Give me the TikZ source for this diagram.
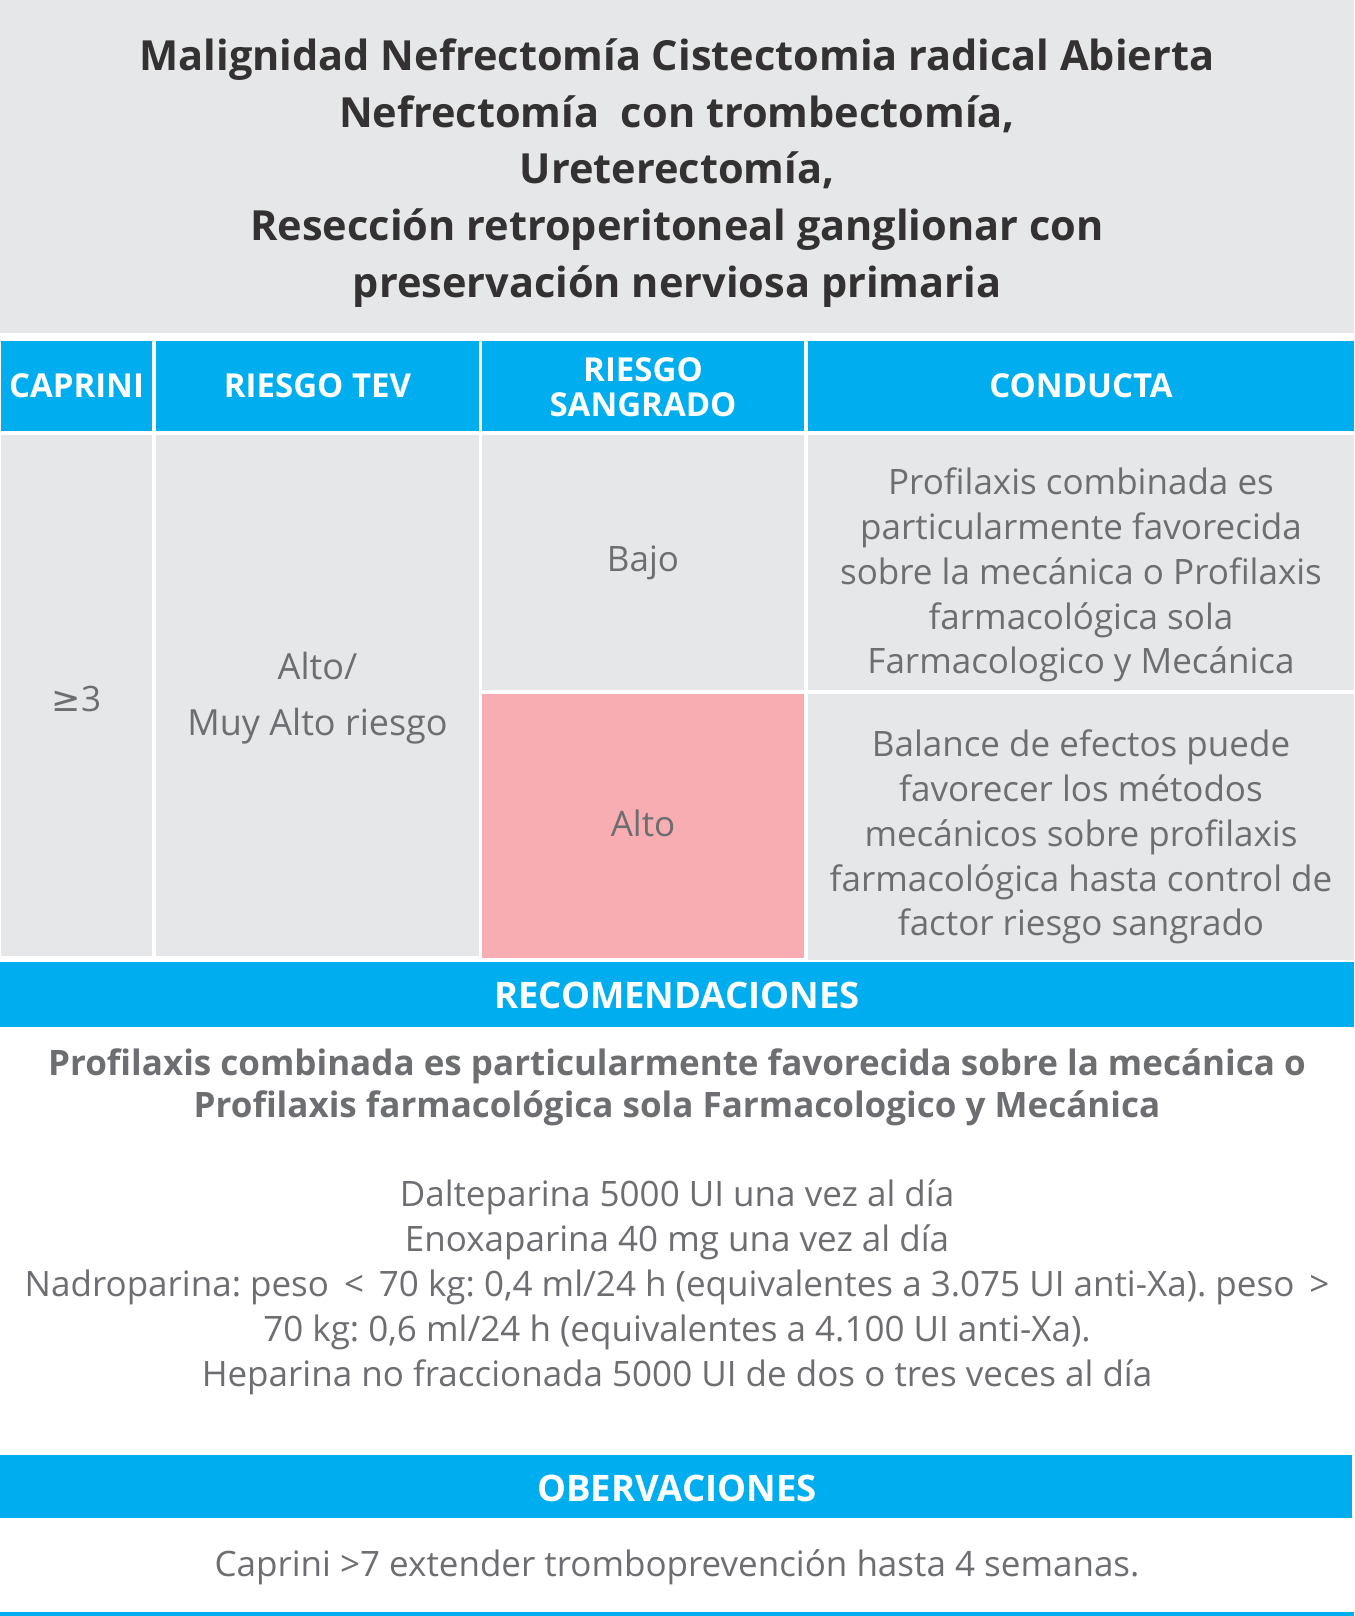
\documentclass[tikz,border=0pt]{standalone}
\usepackage{fontspec}
\setmainfont{Open Sans}
\newfontfamily\symfont{DejaVu Sans}
\usepackage{xcolor}
\frenchspacing

\definecolor{tblgray}{HTML}{E6E7E8}
\definecolor{tblblue}{HTML}{00AEEF}
\definecolor{tblpink}{HTML}{F7ADB1}
\definecolor{txtgray}{HTML}{6D6E71}
\definecolor{txtdark}{HTML}{333132}

\tikzset{
  headtxt/.style={text=white, align=center, font=\bfseries\fontsize{33}{35}\selectfont},
  bartxt/.style={text=white, align=center, font=\bfseries\fontsize{36.5}{40}\selectfont},
  celltxt/.style={text=txtgray, align=center, font=\fontsize{35}{44.9}\selectfont},
}

\begin{document}
\begin{tikzpicture}[x=1pt, y=-1pt, inner sep=0pt]
\useasboundingbox (0,0) rectangle (1354,1616);
\fill[white] (0,0) rectangle (1354,1616);
% title
\fill[tblgray] (0,0) rectangle (1354,333);
\node[text=txtdark, align=center, font=\bfseries\fontsize{41.5}{56.6}\selectfont] (title) at (677,173)
  {Malignidad Nefrectomía Cistectomia radical Abierta\\
   Nefrectomía \ con trombectomía,\\
   Ureterectomía,\\
   Resección retroperitoneal ganglionar con\\
   preservación nerviosa primaria};
% header row
\fill[tblblue] (1,341) rectangle (152,431);
\fill[tblblue] (156,341) rectangle (479,431);
\fill[tblblue] (482,341) rectangle (804,431);
\fill[tblblue] (808,341) rectangle (1354,431);
\node[headtxt] (hcaprini) at (76.5,386) {CAPRINI};
\node[headtxt] (htev) at (317.5,386) {RIESGO TEV};
\node[headtxt] (hsangrado) at (643,387) {RIESGO\\SANGRADO};
\node[headtxt] (hconducta) at (1081,386) {CONDUCTA};
% body
\fill[tblgray] (1,435) rectangle (152,956);
\fill[tblgray] (156,435) rectangle (479,956);
\fill[tblgray] (482,435) rectangle (804,690);
\fill[tblpink] (482,694) rectangle (804,958);
\fill[tblgray] (808,435) rectangle (1354,690);
\fill[tblgray] (808,694) rectangle (1354,960);
\node[celltxt] (caprini) at (76.5,699) {{\symfont ≥}3};
\node[celltxt, font=\fontsize{36}{55.7}\selectfont] (tev) at (317.5,698) {Alto/\\Muy Alto riesgo};
\node[celltxt] (bajo) at (643,563) {Bajo};
\node[celltxt] (alto) at (643,823) {Alto};
\node[celltxt] (condbajo) at (1081,575)
  {Profilaxis combinada es\\
   particularmente favorecida\\
   sobre la mecánica o Profilaxis\\
   farmacológica sola\\
   Farmacologico y Mecánica};
\node[celltxt] (condalto) at (1081,837)
  {Balance de efectos puede\\
   favorecer los métodos\\
   mecánicos sobre profilaxis\\
   farmacológica hasta control de\\
   factor riesgo sangrado};
% recomendaciones
\fill[tblblue] (0,962) rectangle (1354,1027);
\node[bartxt] (hrec) at (677,995) {RECOMENDACIONES};
\node[celltxt, font=\bfseries\fontsize{35}{42.3}\selectfont] (recbold) at (677,1087)
  {Profilaxis combinada es particularmente favorecida sobre la mecánica o\\
   Profilaxis farmacológica sola Farmacologico y Mecánica};
\node[celltxt] (recdosis) at (677,1287)
  {Dalteparina 5000 UI una vez al día\\
   Enoxaparina 40 mg una vez al día\\
   Nadroparina: peso\,\ <\ \,70 kg: 0,4 ml/24 h (equivalentes a 3.075 UI anti-Xa). peso\,\ >\\
   70 kg: 0,6 ml/24 h (equivalentes a 4.100 UI anti-Xa).\\
   Heparina no fraccionada 5000 UI de dos o tres veces al día};
% observaciones
\fill[tblblue] (0,1455) rectangle (1352,1518);
\node[bartxt] (hobs) at (677,1488) {OBERVACIONES};
\node[celltxt] (obs) at (677,1567) {Caprini >7 extender tromboprevención hasta 4 semanas.};
\fill[tblblue] (0,1612) rectangle (1354,1616);
\end{tikzpicture}
\end{document}
